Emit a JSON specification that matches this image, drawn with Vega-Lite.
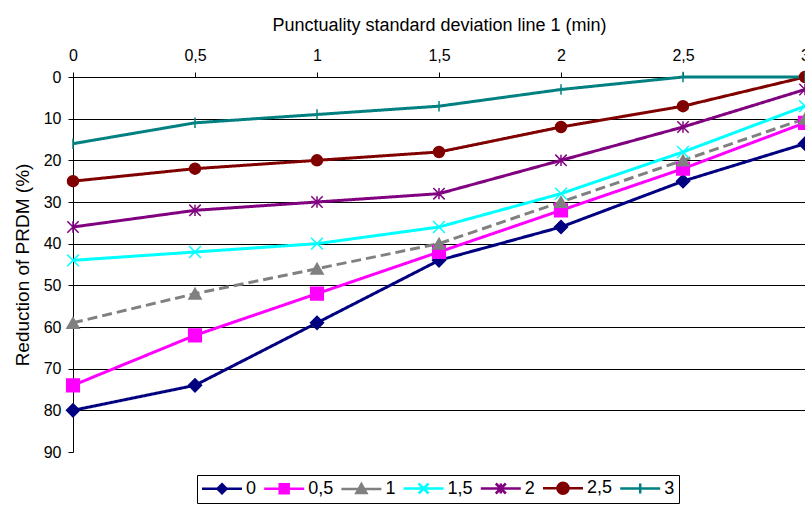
{
  "$schema": "https://vega.github.io/schema/vega-lite/v6.json",
  "width": 732,
  "height": 375,
  "autosize": {"type": "none"},
  "padding": {"left": 73, "top": 77, "right": 0, "bottom": 53},
  "background": "white",
  "config": {
    "view": {"stroke": null},
    "font": "Liberation Sans",
    "axis": {"labelFont": "Liberation Sans", "titleFont": "Liberation Sans", "labelColor": "black", "titleColor": "black", "titleFontWeight": "normal", "domainColor": "black", "tickColor": "black", "tickSize": 5, "labelFontSize": 16}
  },
  "data": {
    "values": [
      {"series": "0", "x": 0, "y": 80}, {"series": "0", "x": 0.5, "y": 74}, {"series": "0", "x": 1, "y": 59}, {"series": "0", "x": 1.5, "y": 44}, {"series": "0", "x": 2, "y": 36}, {"series": "0", "x": 2.5, "y": 25}, {"series": "0", "x": 3, "y": 16},
      {"series": "0,5", "x": 0, "y": 74}, {"series": "0,5", "x": 0.5, "y": 62}, {"series": "0,5", "x": 1, "y": 52}, {"series": "0,5", "x": 1.5, "y": 42}, {"series": "0,5", "x": 2, "y": 32}, {"series": "0,5", "x": 2.5, "y": 22}, {"series": "0,5", "x": 3, "y": 11},
      {"series": "1", "x": 0, "y": 59}, {"series": "1", "x": 0.5, "y": 52}, {"series": "1", "x": 1, "y": 46}, {"series": "1", "x": 1.5, "y": 40}, {"series": "1", "x": 2, "y": 30}, {"series": "1", "x": 2.5, "y": 20}, {"series": "1", "x": 3, "y": 10},
      {"series": "1,5", "x": 0, "y": 44}, {"series": "1,5", "x": 0.5, "y": 42}, {"series": "1,5", "x": 1, "y": 40}, {"series": "1,5", "x": 1.5, "y": 36}, {"series": "1,5", "x": 2, "y": 28}, {"series": "1,5", "x": 2.5, "y": 18}, {"series": "1,5", "x": 3, "y": 7},
      {"series": "2", "x": 0, "y": 36}, {"series": "2", "x": 0.5, "y": 32}, {"series": "2", "x": 1, "y": 30}, {"series": "2", "x": 1.5, "y": 28}, {"series": "2", "x": 2, "y": 20}, {"series": "2", "x": 2.5, "y": 12}, {"series": "2", "x": 3, "y": 3},
      {"series": "2,5", "x": 0, "y": 25}, {"series": "2,5", "x": 0.5, "y": 22}, {"series": "2,5", "x": 1, "y": 20}, {"series": "2,5", "x": 1.5, "y": 18}, {"series": "2,5", "x": 2, "y": 12}, {"series": "2,5", "x": 2.5, "y": 7}, {"series": "2,5", "x": 3, "y": 0},
      {"series": "3", "x": 0, "y": 16}, {"series": "3", "x": 0.5, "y": 11}, {"series": "3", "x": 1, "y": 9}, {"series": "3", "x": 1.5, "y": 7}, {"series": "3", "x": 2, "y": 3}, {"series": "3", "x": 2.5, "y": 0}, {"series": "3", "x": 3, "y": 0}
    ]
  },
  "encoding": {
    "x": {
      "field": "x", "type": "quantitative",
      "scale": {"domain": [0, 3], "nice": false},
      "axis": {
        "orient": "top",
        "title": "Punctuality standard deviation line 1 (min)",
        "values": [0, 0.5, 1, 1.5, 2, 2.5, 3],
        "labelExpr": "replace(format(datum.value, '~g'), '.', ',')",
        "grid": false,
        "labelFlush": false,
        "labelOverlap": false,
        "labelPadding": 9,
        "titleFontSize": 18,
        "titlePadding": 13
      }
    },
    "y": {
      "field": "y", "type": "quantitative",
      "scale": {"domain": [0, 90], "reverse": true, "nice": false},
      "axis": {
        "title": "Reduction of PRDM (%)",
        "values": [0, 10, 20, 30, 40, 50, 60, 70, 80, 90],
        "grid": true,
        "gridColor": "black",
        "gridOpacity": {"condition": {"test": "datum.value >= 90", "value": 0}, "value": 1},
        "labelPadding": 7,
        "titleFontSize": 19,
        "titlePadding": 11
      }
    },
    "color": {
      "field": "series", "type": "nominal",
      "scale": {"domain": ["0", "0,5", "1", "1,5", "2", "2,5", "3"], "range": ["#000080", "#FF00FF", "#808080", "#00FFFF", "#800080", "#800000", "#008080"]},
      "legend": {
        "orient": "none", "legendX": 124, "legendY": 398,
        "direction": "horizontal", "title": null,
        "strokeColor": "black", "fillColor": "white", "padding": 4,
        "labelFont": "Liberation Sans", "labelFontSize": 18, "labelColor": "black",
        "symbolSize": 100, "symbolStrokeWidth": 2.5, "symbolOffset": 12, "labelOffset": 15, "columnPadding": 2.2, "symbolOpacity": 1,
        "encode": {
          "symbols": {
            "update": {
              "shape": {"signal": "['M-4,0H4M0,-0.9L0.9,0L0,0.9L-0.9,0Z','M-4,0H4M-0.9,-0.9H0.9V0.9H-0.9Z','M-4,0H4M0,-1L1,0.8H-1Z','M-4,0H4M-1,-1L1,1M-1,1L1,-1','M-4,0H4M-1,-1L1,1M-1,1L1,-1M0,-1V1','M-4,0H4M1.1,0A1.1,1.1,0,1,1,-1.1,0A1.1,1.1,0,1,1,1.1,0Z','M-4,0H4M0,-1V1'][indexof(['0','0,5','1','1,5','2','2,5','3'], datum.value)]"},
              "size": {"value": 100},
              "fill": {"signal": "scale('color', datum.value)"},
              "stroke": {"signal": "scale('color', datum.value)"},
              "strokeWidth": {"value": 2.5},
              "opacity": {"value": 1}
            }
          }
        }
      }
    }
  },
  "layer": [
    {
      "mark": {"type": "line", "strokeWidth": 3},
      "encoding": {
        "strokeDash": {
          "field": "series", "type": "nominal",
          "scale": {"domain": ["3", "2,5", "2", "1,5", "1", "0,5", "0"], "range": [[1, 0], [1, 0], [1, 0], [1, 0], [10, 5], [1, 0], [1, 0]]},
          "legend": null
        }
      }
    },
    {
      "mark": {"type": "point", "filled": true, "opacity": 1, "strokeWidth": 1.5},
      "encoding": {
        "shape": {
          "field": "series", "type": "nominal",
          "scale": {"domain": ["3", "2,5", "2", "1,5", "1", "0,5", "0"], "range": ["M0,-1V1", "circle", "M-1,-1L1,1M-1,1L1,-1M0,-1V1", "M-1,-1L1,1M-1,1L1,-1", "triangle-up", "square", "diamond"]},
          "legend": null
        },
        "size": {
          "field": "series", "type": "nominal",
          "scale": {"domain": ["3", "2,5", "2", "1,5", "1", "0,5", "0"], "range": [110, 169, 121, 121, 120, 90, 100]},
          "legend": null
        },
        "stroke": {
          "field": "series", "type": "nominal",
          "scale": {"domain": ["3", "2,5", "2", "1,5", "1", "0,5", "0"], "range": ["#008080", "#800000", "#800080", "#00FFFF", "#808080", "#FF00FF", "#000080"]},
          "legend": null
        }
      }
    }
  ]
}
